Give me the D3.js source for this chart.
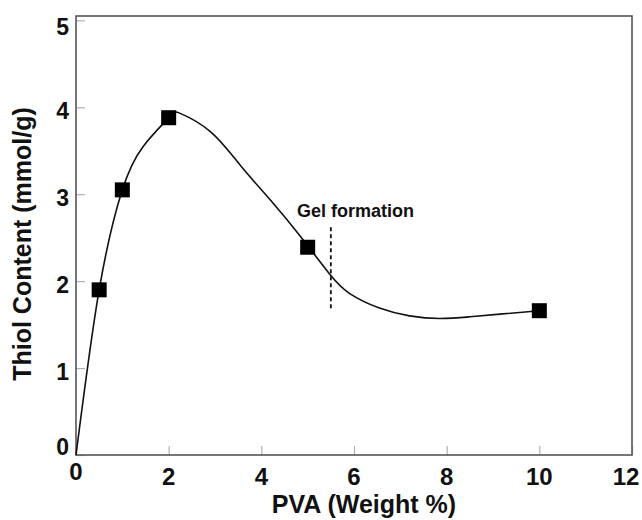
<!DOCTYPE html>
<html>
<head>
<meta charset="utf-8">
<script src="https://cdn.jsdelivr.net/npm/d3@7"></script>
<style>
  html, body { margin: 0; padding: 0; background: #fff; }
  svg { display: block; }
  text { font-family: "Liberation Sans", Arial, Helvetica, sans-serif; font-weight: bold; fill: #111; }
</style>
</head>
<body>
<svg id="chart" width="642" height="520"></svg>
<script>
// Measured data points (PVA weight %, thiol content mmol/g)
const pvaWeight = [0.5, 1.0, 2.0, 5.0, 10.0];
const thiolContent = [1.9, 3.05, 3.88, 2.39, 1.66];

// Fitted trend curve
const curveX = [0, 0.5, 1.0, 1.45, 2.0, 2.25, 2.9, 3.55, 4.2, 4.85, 5.46, 5.9, 6.55, 7.2, 7.85, 8.5, 9.15, 10.0];
const curveY = [0, 1.9, 3.05, 3.55, 3.88, 3.93, 3.72, 3.33, 2.93, 2.51, 2.09, 1.86, 1.69, 1.60, 1.57, 1.59, 1.62, 1.66];

// Axis ticks
const xTicks = [0, 2, 4, 6, 8, 10, 12];
const yTicks = [0, 1, 2, 3, 4, 5];

// Gel formation marker
const gelX = 5.5;
const gelRange = [1.66, 2.62];
const gelLabel = "Gel formation";

const xTitle = "PVA (Weight %)";
const yTitle = "Thiol Content (mmol/g)";

const svg = d3.select("#chart");
const mLeft = 76, mRight = 632, mTop = 16, mBottom = 455;

const x = d3.scaleLinear().domain([0, 12]).range([mLeft, mRight]);
const y = d3.scaleLinear().domain([0, 5.05]).range([mBottom, mTop]);

// Ticks (inward, light grey)
const xAxis = d3.axisBottom(x).tickValues(xTicks).tickSize(-9).tickFormat("");
const yAxis = d3.axisLeft(y).tickValues(yTicks).tickSize(-9).tickFormat("");

const gx = svg.append("g").attr("transform", `translate(0,${mBottom})`).call(xAxis);
const gy = svg.append("g").attr("transform", `translate(${mLeft},0)`).call(yAxis);
[gx, gy].forEach(g => {
  g.select(".domain").remove();
  g.selectAll(".tick line").attr("stroke", "#b0b0b0").attr("stroke-width", 1.2);
});

// Frame
svg.append("rect")
  .attr("x", mLeft).attr("y", mTop)
  .attr("width", mRight - mLeft).attr("height", mBottom - mTop)
  .attr("fill", "none").attr("stroke", "#555").attr("stroke-width", 1.6);

// Tick labels
svg.append("g").selectAll("text").data(xTicks).join("text")
  .attr("x", d => Math.min(x(d), 626))
  .attr("y", d => d === 0 ? 480 : 485)
  .attr("text-anchor", "middle")
  .attr("font-size", 24)
  .text(d => d);

svg.append("g").selectAll("text").data(yTicks).join("text")
  .attr("x", 69)
  .attr("y", d => d === 0 ? y(d) : y(d) + (d === 5 ? 15 : 12))
  .attr("text-anchor", "end")
  .attr("font-size", 23)
  .text(d => d);

// Axis titles
svg.append("text")
  .attr("x", 364).attr("y", 513)
  .attr("text-anchor", "middle")
  .attr("font-size", 25)
  .text(xTitle);

svg.append("text")
  .attr("transform", "translate(31,244) rotate(-90)")
  .attr("text-anchor", "middle")
  .attr("font-size", 25)
  .text(yTitle);

// Trend curve
const pts = curveX.map((d, i) => [d, curveY[i]]);
const line = d3.line()
  .x(d => x(d[0])).y(d => y(d[1]))
  .curve(d3.curveNatural);
svg.append("path")
  .datum(pts)
  .attr("d", line)
  .attr("fill", "none")
  .attr("stroke", "#111")
  .attr("stroke-width", 1.6);

// Gel formation dashed line + label
svg.append("line")
  .attr("x1", x(gelX)).attr("x2", x(gelX))
  .attr("y1", y(gelRange[1])).attr("y2", y(gelRange[0]))
  .attr("stroke", "#111").attr("stroke-width", 1.8)
  .attr("stroke-dasharray", "4,3");

svg.append("text")
  .attr("x", x(4.77)).attr("y", y(2.74))
  .attr("font-size", 18)
  .text(gelLabel);

// Data squares
const sz = 15;
svg.append("g").selectAll("rect").data(pvaWeight).join("rect")
  .attr("x", (d) => x(d) - sz / 2)
  .attr("y", (d, i) => y(thiolContent[i]) - sz / 2)
  .attr("width", sz).attr("height", sz)
  .attr("fill", "#000");
</script>
</body>
</html>
